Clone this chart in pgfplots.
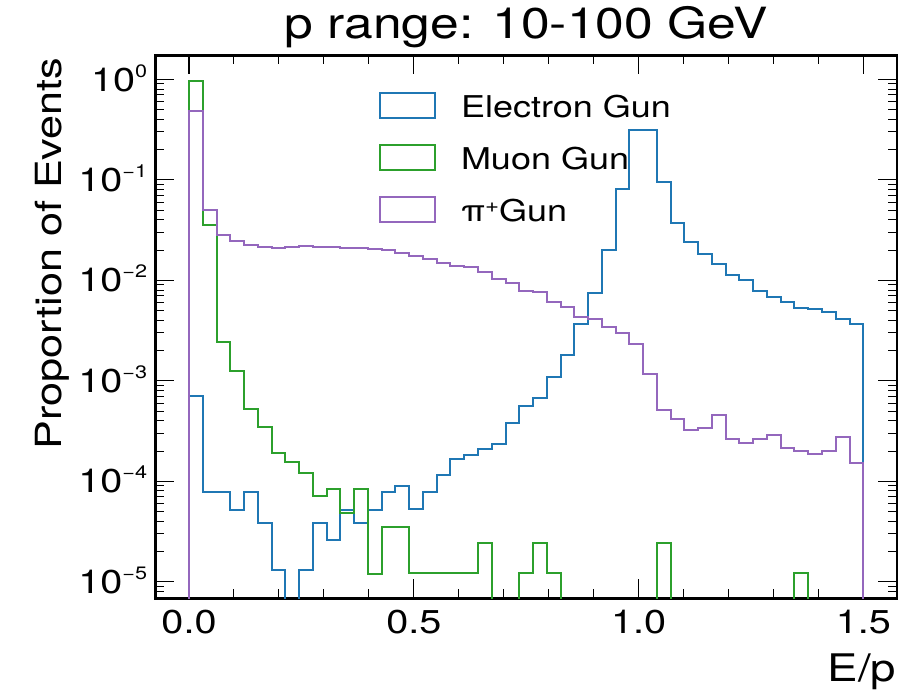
\documentclass[border=0pt]{standalone}
\usepackage{fontspec}
\setmainfont{TeX Gyre Heros}[FakeStretch=1.2]
\usepackage{pgfplots}
\usepackage{pgfplotstable}
\pgfplotsset{compat=1.18}
\definecolor{cblue}{HTML}{1F77B4}
\definecolor{cgreen}{HTML}{2CA02C}
\definecolor{cpurple}{HTML}{9467BD}
\newcommand{\sps}[1]{\raisebox{14pt}{\fontsize{18}{18}\selectfont #1}}

% E/p histograms, 49 bins from 0 to 1.5 (left edges); 1e-9 = empty bin
\pgfplotstableread{
x e m p
0        1e-9     1e-9     1e-9
0        7.1e-4   0.97     0.487
0.030612 7.76e-5  0.0355   0.050
0.061224 7.76e-5  2.45e-3  0.028
0.091837 5.14e-5  1.26e-3  0.0244
0.122449 7.76e-5  5.27e-4  0.0224
0.153061 3.87e-5  3.44e-4  0.0213
0.183673 1.31e-5  1.90e-4  0.0209
0.214286 1e-9     1.54e-4  0.0216
0.244898 1.31e-5  1.20e-4  0.0219
0.275510 3.87e-5  7.18e-5  0.0213
0.306122 2.60e-5  8.3e-5   0.0216
0.336735 5.14e-5  4.86e-5  0.0209
0.367347 3.87e-5  8.3e-5   0.0209
0.397959 5.14e-5  1.19e-5  0.0205
0.428571 7.76e-5  3.53e-5  0.0200
0.459184 8.95e-5  3.53e-5  0.0188
0.489796 5.26e-5  1.21e-5  0.0174
0.520408 7.76e-5  1.21e-5  0.0162
0.551020 1.15e-4  1.21e-5  0.0147
0.581633 1.66e-4  1.21e-5  0.0139
0.612245 1.82e-4  1.21e-5  0.0135
0.642857 2.08e-4  2.41e-5  0.0121
0.673469 2.35e-4  1e-9     0.0102
0.704082 3.77e-4  1e-9     9.47e-3
0.734694 5.61e-4  1.21e-5  7.76e-3
0.765306 6.78e-4  2.41e-5  7.59e-3
0.795918 1.08e-3  1.21e-5  6.12e-3
0.826531 1.80e-3  1e-9     5.38e-3
0.857143 3.67e-3  1e-9     4.3e-3
0.887755 7.5e-3   1e-9     4.09e-3
0.918367 0.0201   1e-9     3.42e-3
0.948980 0.0815   1e-9     2.97e-3
0.979592 0.313    1e-9     2.30e-3
1.010204 0.313    1e-9     1.17e-3
1.040816 0.095    2.41e-5  5.12e-4
1.071429 0.0372   1e-9     4.13e-4
1.102041 0.0242   1e-9     3.24e-4
1.132653 0.0183   1e-9     3.39e-4
1.163265 0.0145   1e-9     4.53e-4
1.193878 0.0114   1e-9     2.61e-4
1.224490 0.01006  1e-9     2.38e-4
1.255102 7.76e-3  1e-9     2.65e-4
1.285714 6.87e-3  1e-9     2.86e-4
1.316327 6.12e-3  1e-9     2.14e-4
1.346939 5.30e-3  1.21e-5  1.98e-4
1.377551 5.14e-3  1e-9     1.87e-4
1.408163 4.85e-3  1e-9     1.98e-4
1.438776 4.09e-3  1e-9     2.77e-4
1.469388 3.68e-3  1e-9     1.51e-4
1.5      3.68e-3  1e-9     1.51e-4
1.5      1e-9     1e-9     1e-9
}\hist

\begin{document}
\begin{tikzpicture}[x=1pt,y=1pt]
\path[use as bounding box] (0,0) rectangle (907,691);
\begin{axis}[
  at={(155.3pt,92.7pt)}, anchor=south west,
  scale only axis, width=741.7pt, height=543pt,
  ymode=log,
  xmin=-0.075, xmax=1.575, ymin=6.84e-6, ymax=1.734,
  clip=true,
  axis line style={line width=2.7pt, black},
  tick align=inside, xtick pos=both, ytick pos=both,
  xticklabel pos=lower, yticklabel pos=left,
  major tick length=19pt, minor tick length=9pt,
  every major tick/.append style={line width=1.3pt, black},
  every minor tick/.append style={line width=1pt, black},
  xtick={0,0.5,1,1.5}, xticklabels={0.0,0.5,1.0,1.5},
  minor xtick={0.1,0.2,0.3,0.4,0.6,0.7,0.8,0.9,1.1,1.2,1.3,1.4},
  ytick={1e-5,1e-4,1e-3,1e-2,1e-1,1},
  yticklabels={10\sps{−5},10\sps{−4},10\sps{−3},10\sps{−2},10\sps{−1},10\sps{0}},
  minor ytick={7e-6,8e-6,9e-6,
    2e-5,3e-5,4e-5,5e-5,6e-5,7e-5,8e-5,9e-5,
    2e-4,3e-4,4e-4,5e-4,6e-4,7e-4,8e-4,9e-4,
    2e-3,3e-3,4e-3,5e-3,6e-3,7e-3,8e-3,9e-3,
    2e-2,3e-2,4e-2,5e-2,6e-2,7e-2,8e-2,9e-2,
    2e-1,3e-1,4e-1,5e-1,6e-1,7e-1,8e-1,9e-1},
  xticklabel style={font=\fontsize{33}{33}\selectfont, anchor=north, inner sep=0pt, yshift=-12pt},
  yticklabel style={font=\fontsize{33}{33}\selectfont, anchor=base east, inner sep=0pt, xshift=-8pt, yshift=-11.7pt},
  title={p range: 10-100 GeV},
  title style={font=\fontsize{43}{43}\selectfont, at={(0.5,1.0203)}, anchor=base, inner sep=0pt},
  xlabel={E/p},
  xlabel style={font=\fontsize{38}{38}\selectfont, at={(0.9993,-0.1541)}, anchor=base east, inner sep=0pt},
  ylabel={Proportion of Events},
  ylabel style={font=\fontsize{36}{36}\selectfont, at={(-0.1258,0.996)}, anchor=base east, inner sep=0pt},
  legend cell align=left,
  legend style={at={(0.3016,0.9549)}, anchor=north west, draw=none, fill=none,
    inner sep=0pt, outer sep=0pt, row sep=0pt,
    font=\fontsize{30}{30}\selectfont, nodes={inner sep=0pt, text depth=0pt}},
  legend image code/.code={%
    \path[draw=none, fill=none] (0pt,-26pt) rectangle (81pt,26pt);
    \draw[#1, sharp plot] (0pt,-12.5pt) rectangle (55pt,12.5pt);},
]
\addplot[cblue, line width=2pt, const plot mark left] table[x=x,y=e]{\hist};
\addlegendentry{Electron Gun}
\addplot[cgreen, line width=2pt, const plot mark left] table[x=x,y=m]{\hist};
\addlegendentry{Muon Gun}
\addplot[cpurple, line width=2pt, const plot mark left] table[x=x,y=p]{\hist};
\addlegendentry{π\raisebox{9pt}{\fontsize{20}{20}\selectfont +}Gun}
\end{axis}
\end{tikzpicture}
\end{document}
